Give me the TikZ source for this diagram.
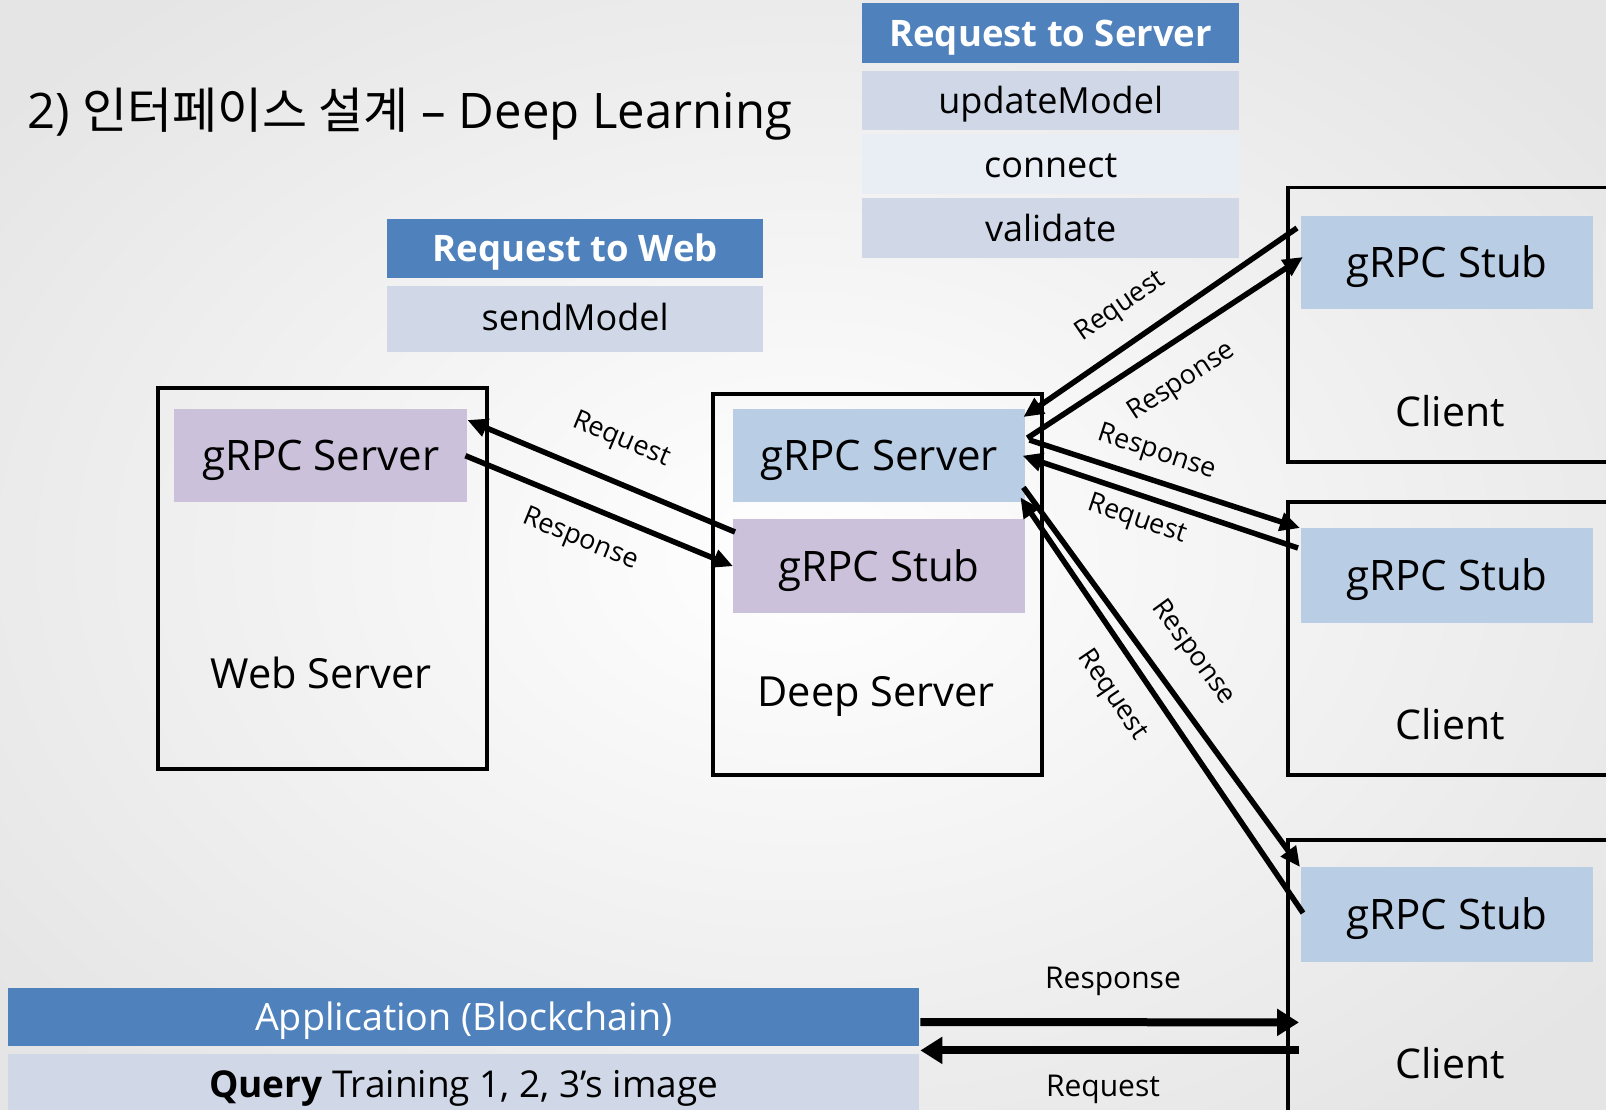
\documentclass[tikz,border=0pt]{standalone}
\usepackage{fontspec}
\setmainfont{Open Sans}
\newfontfamily\kr{Noto Sans CJK KR}
\usetikzlibrary{arrows.meta}
\definecolor{hdr}{HTML}{4F81BD}
\definecolor{rowA}{HTML}{D0D8E8}
\definecolor{rowB}{HTML}{E9EDF4}
\definecolor{lav}{HTML}{CCC1DA}
\definecolor{lblue}{HTML}{B9CDE5}
\begin{document}
\begin{tikzpicture}[x=1pt,y=-1pt,
  frame/.style={draw=black,line width=3.5pt,anchor=north west,inner sep=0pt},
  inner/.style={text height=30pt,text depth=0pt,anchor=north west,inner sep=0pt,minimum width=292pt,minimum height=93pt,font=\fontsize{42}{48}\selectfont},
  hcell/.style={text height=26pt,text depth=0pt,anchor=north west,inner sep=0pt,fill=hdr,text=white,font=\fontsize{36.5}{40}\selectfont\bfseries},
  rcell/.style={text height=26pt,text depth=0pt,anchor=north west,inner sep=0pt,fill=rowA,font=\fontsize{36}{40}\selectfont},
  rcellB/.style={rcell,fill=rowB},
  biglbl/.style={text height=30pt,text depth=0pt,font=\fontsize{41.5}{48}\selectfont},
  lbl/.style={font=\fontsize{27}{30}\selectfont},
  blbl/.style={font=\fontsize{30}{34}\selectfont},
  arr/.style={line width=5.5pt,-{Triangle[length=20pt,width=18pt]}},
  barr/.style={line width=8pt,-{Triangle[length=22pt,width=26pt]}}]
\useasboundingbox (0,0) rectangle (1606,1110);
\clip (0,0) rectangle (1606,1110);
\shade[inner color=white,outer color=black!10] (-200,-150) rectangle (1806,1260);

% title
\node[anchor=west,inner sep=0pt,font=\fontsize{49}{56}\selectfont] (title) at (27,114) {2) {\kr 인터페이스 설계} – Deep Learning};

% Request to Server table
\node[hcell,minimum width=377pt,minimum height=60pt] (rsh) at (862,3) {Request to Server};
\node[rcell,minimum width=377pt,minimum height=59pt] (rs1) at (862,71) {updateModel};
\node[rcellB,minimum width=377pt,minimum height=60pt] (rs2) at (862,134) {connect};
\node[rcell,minimum width=377pt,minimum height=60pt] (rs3) at (862,198) {validate};

% Request to Web table
\node[hcell,minimum width=376pt,minimum height=59pt] (rwh) at (387,219) {Request to Web};
\node[rcell,minimum width=376pt,minimum height=62pt] (rw1) at (387,286) {sendModel};
\fill[rowA] (387,348) rectangle (763,352);

% Web server
\node[frame,minimum width=329pt,minimum height=381pt] (web) at (156,386) {};
\node[inner,fill=lav,minimum width=293pt] (wsrv) at (174,409) {gRPC Server};
\node[biglbl] (webl) at (321,673) {Web Server};

% Deep server
\node[frame,minimum width=329pt,minimum height=381pt] (deep) at (711,392) {};
\node[inner,fill=lblue] (dsrv) at (733,409) {gRPC Server};
\node[inner,fill=lav,minimum height=94pt] (dstub) at (733,519) {gRPC Stub};
\node[biglbl] (deepl) at (876,691) {Deep Server};

% Clients
\node[frame,minimum width=360pt,minimum height=274pt] (c1) at (1286,186) {};
\node[inner,fill=lblue] (c1stub) at (1301,216) {gRPC Stub};
\node[biglbl,font=\fontsize{41}{48}\selectfont] (c1l) at (1450,411) {Client};

\node[frame,minimum width=360pt,minimum height=273pt] (c2) at (1286,500) {};
\node[inner,fill=lblue,minimum height=95pt] (c2stub) at (1301,528) {gRPC Stub};
\node[biglbl,font=\fontsize{41}{48}\selectfont] (c2l) at (1450,724) {Client};

\node[frame,minimum width=360pt,minimum height=320pt] (c3) at (1286,838) {};
\node[inner,fill=lblue,minimum height=95pt] (c3stub) at (1301,867) {gRPC Stub};
\node[biglbl,font=\fontsize{41}{48}\selectfont] (c3l) at (1450,1063) {Client};

% Application table
\node[hcell,text height=27pt,font=\fontsize{37.7}{42}\selectfont,minimum width=911pt,minimum height=58pt] (app) at (8,988) {Application (Blockchain)};
\node[rcell,text height=27pt,font=\fontsize{37}{42}\selectfont,minimum width=911pt,minimum height=60pt] (query) at (8,1054) {\textbf{Query} Training 1, 2, 3’s image};

% Web <-> Deep
\draw[arr] ([xshift=2pt,yshift=-13pt]dstub.north west) -- ([yshift=-11pt]wsrv.north east);
\draw[arr] ([xshift=-2pt]wsrv.east) -- (dstub.west);
\node[lbl,rotate=-22.7] (l1) at (621,440) {Request};
\node[lbl,rotate=-22.1] (l2) at (580,540) {Response};

% Deep <-> Client1
\draw[arr] ([xshift=-4pt,yshift=-12pt]c1stub.north west) -- ([xshift=-2pt,yshift=-8pt]dsrv.north east);
\draw[arr] ([xshift=2pt,yshift=-29pt]dsrv.north east) -- ([xshift=2pt,yshift=-41pt]c1stub.north west);
\node[lbl,rotate=34.6] (l3) at (1121,307) {Request};
\node[lbl,rotate=33.3] (l4) at (1182,382) {Response};

% Deep <-> Client2
\draw[arr] ([xshift=4pt,yshift=-31pt]dsrv.north east) -- ([xshift=-1pt]c2stub.north west);
\draw[arr] ([xshift=-3pt,yshift=-20pt]c2stub.north west) -- ([xshift=-3pt]dsrv.east);
\node[lbl,rotate=-18.2] (l5) at (1157,453) {Response};
\node[lbl,rotate=-18.5] (l6) at (1137,520) {Request};

% Deep <-> Client3
\draw[arr] ([xshift=-2pt,yshift=15pt]dsrv.south east) -- ([xshift=-1pt]c3stub.north west);
\draw[arr] ([xshift=2pt,yshift=-46pt]c3stub.north west) -- ([xshift=-5pt,yshift=5pt]dsrv.south east);
\node[lbl,rotate=-53.9] (l7) at (1193,653) {Response};
\node[lbl,rotate=-55.8] (l8) at (1112,695) {Request};

% App <-> Client3
\draw[barr] ([xshift=1pt,yshift=-34pt]app.north east) -- ([xshift=-2pt,yshift=-60pt]c3stub.south west);
\draw[barr] ([xshift=-2pt,yshift=-88pt]c3stub.south west) -- ([xshift=1pt,yshift=-4pt]app.south east);
\node[blbl] (l9) at (1113,981) {Response};
\node[blbl] (l10) at (1103,1089) {Request};
\end{tikzpicture}
\end{document}
